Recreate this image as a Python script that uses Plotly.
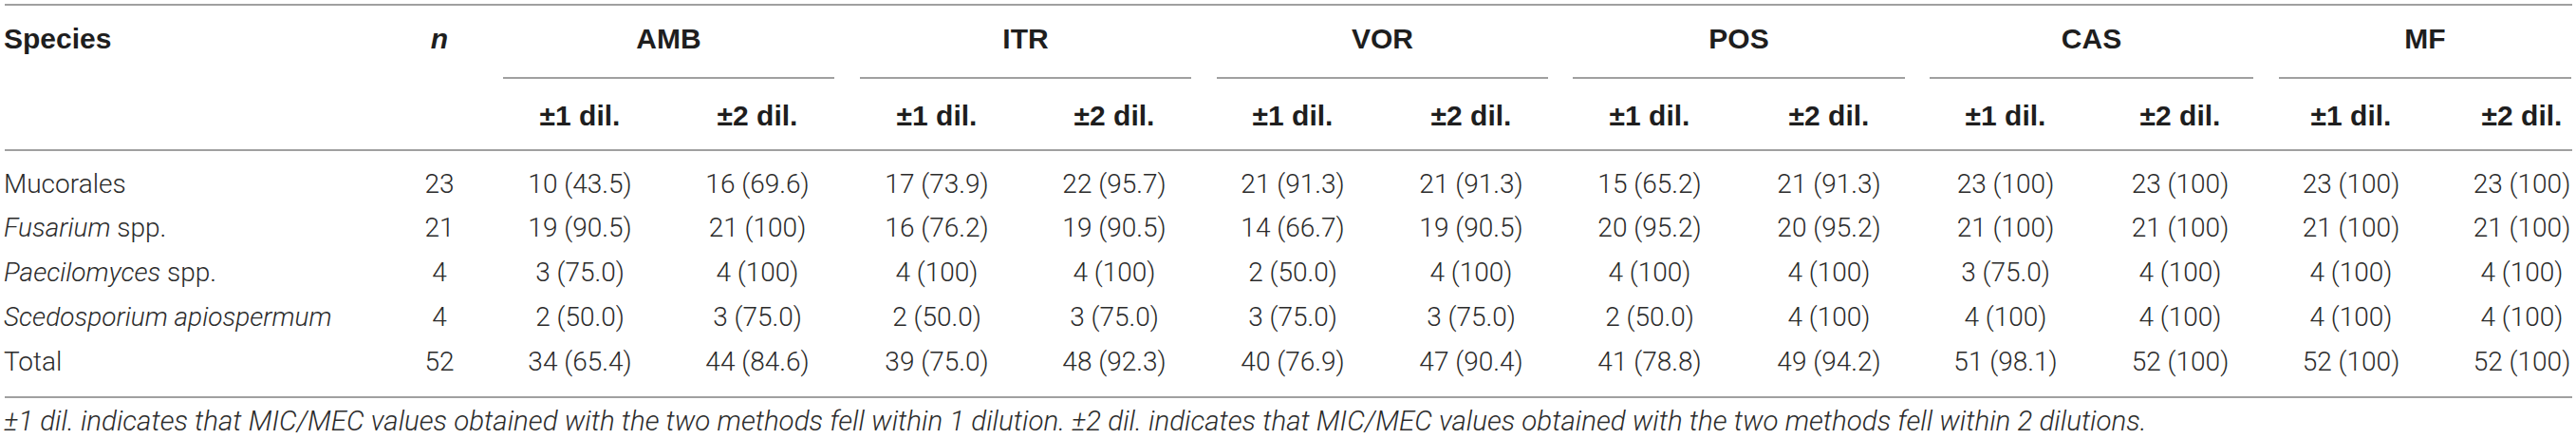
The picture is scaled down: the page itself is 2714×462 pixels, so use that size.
import plotly.graph_objects as go

# table content
species = ["Mucorales", "<i>Fusarium</i> spp.", "<i>Paecilomyces</i> spp.",
           "<i>Scedosporium apiospermum</i>", "Total"]
n_isolates = ["23", "21", "4", "4", "52"]
drugs = ["AMB", "ITR", "VOR", "POS", "CAS", "MF"]
dil_labels = ["±1 dil.", "±2 dil."]

amb_1 = ["10 (43.5)", "19 (90.5)", "3 (75.0)", "2 (50.0)", "34 (65.4)"]
amb_2 = ["16 (69.6)", "21 (100)", "4 (100)", "3 (75.0)", "44 (84.6)"]
itr_1 = ["17 (73.9)", "16 (76.2)", "4 (100)", "2 (50.0)", "39 (75.0)"]
itr_2 = ["22 (95.7)", "19 (90.5)", "4 (100)", "3 (75.0)", "48 (92.3)"]
vor_1 = ["21 (91.3)", "14 (66.7)", "2 (50.0)", "3 (75.0)", "40 (76.9)"]
vor_2 = ["21 (91.3)", "19 (90.5)", "4 (100)", "3 (75.0)", "47 (90.4)"]
pos_1 = ["15 (65.2)", "20 (95.2)", "4 (100)", "2 (50.0)", "41 (78.8)"]
pos_2 = ["21 (91.3)", "20 (95.2)", "4 (100)", "4 (100)", "49 (94.2)"]
cas_1 = ["23 (100)", "21 (100)", "3 (75.0)", "4 (100)", "51 (98.1)"]
cas_2 = ["23 (100)", "21 (100)", "4 (100)", "4 (100)", "52 (100)"]
mf_1 = ["23 (100)", "21 (100)", "4 (100)", "4 (100)", "52 (100)"]
mf_2 = ["23 (100)", "21 (100)", "4 (100)", "4 (100)", "52 (100)"]

footnote = ("<i>±1 dil. indicates that MIC/MEC values obtained with the two methods fell within 1 dilution. "
            "±2 dil. indicates that MIC/MEC values obtained with the two methods fell within 2 dilutions.</i>")

columns = [amb_1, amb_2, itr_1, itr_2, vor_1, vor_2, pos_1, pos_2, cas_1, cas_2, mf_1, mf_2]

# layout (pixels)
W, H = 2714, 462
col_x = [611, 798, 987, 1174, 1362, 1550, 1738, 1927, 2113, 2297, 2477, 2657]
group_span = [(530, 879), (906, 1255), (1282, 1631), (1657, 2007), (2033, 2374), (2401, 2709)]
species_x = 4
n_x = 463
y_head1 = 43
y_head2 = 124
row_y = [196, 242, 289, 336, 383]
y_foot = 446

body_font = dict(family="Roboto", size=28, color="#2b2b2b", weight=300)
head_font = dict(family="Liberation Sans", size=30, color="#1e1e1e", weight="bold")
foot_font = dict(family="Roboto", size=29.5, color="#2b2b2b", weight=300)
line_col = "#a0a0a0"


def text_trace(x, y, text, pos, font):
    return go.Scatter(x=x, y=y, text=text, mode="text", textposition=pos,
                      textfont=font, hoverinfo="skip", cliponaxis=False)


fig = go.Figure()

# body cells
fig.add_trace(text_trace([species_x] * len(species), row_y, species, "middle right", body_font))
fig.add_trace(text_trace([n_x] * len(n_isolates), row_y, n_isolates, "middle center", body_font))
for cx, vals in zip(col_x, columns):
    fig.add_trace(text_trace([cx] * len(vals), row_y, vals, "middle center", body_font))

# header
fig.add_trace(text_trace([species_x], [y_head1], ["Species"], "middle right", head_font))
fig.add_trace(text_trace([n_x], [y_head1], ["<i>n</i>"], "middle center", head_font))
fig.add_trace(text_trace([(a + b) / 2 for a, b in group_span], [y_head1] * len(drugs), drugs,
                         "middle center", head_font))
fig.add_trace(text_trace(col_x, [y_head2] * len(col_x), dil_labels * len(drugs),
                         "middle center", head_font))

# footnote
fig.add_trace(text_trace([species_x], [y_foot], [footnote], "middle right", foot_font))

# rules
for yy in [5, 158, 418]:
    fig.add_shape(type="line", x0=5, x1=2710, y0=yy, y1=yy, line=dict(color=line_col, width=2))
for a, b in group_span:
    fig.add_shape(type="line", x0=a, x1=b, y0=82, y1=82, line=dict(color=line_col, width=2))

fig.update_layout(
    width=W, height=H,
    margin=dict(l=0, r=0, t=0, b=0),
    paper_bgcolor="white", plot_bgcolor="white",
    showlegend=False,
    xaxis=dict(range=[0, W], visible=False, fixedrange=True),
    yaxis=dict(range=[H, 0], visible=False, fixedrange=True),
)

# page margin would push the figure off the window
fig.write_html("out.html", config={"displayModeBar": False},
               post_script="document.body.style.margin='0';document.body.style.overflow='hidden';")
